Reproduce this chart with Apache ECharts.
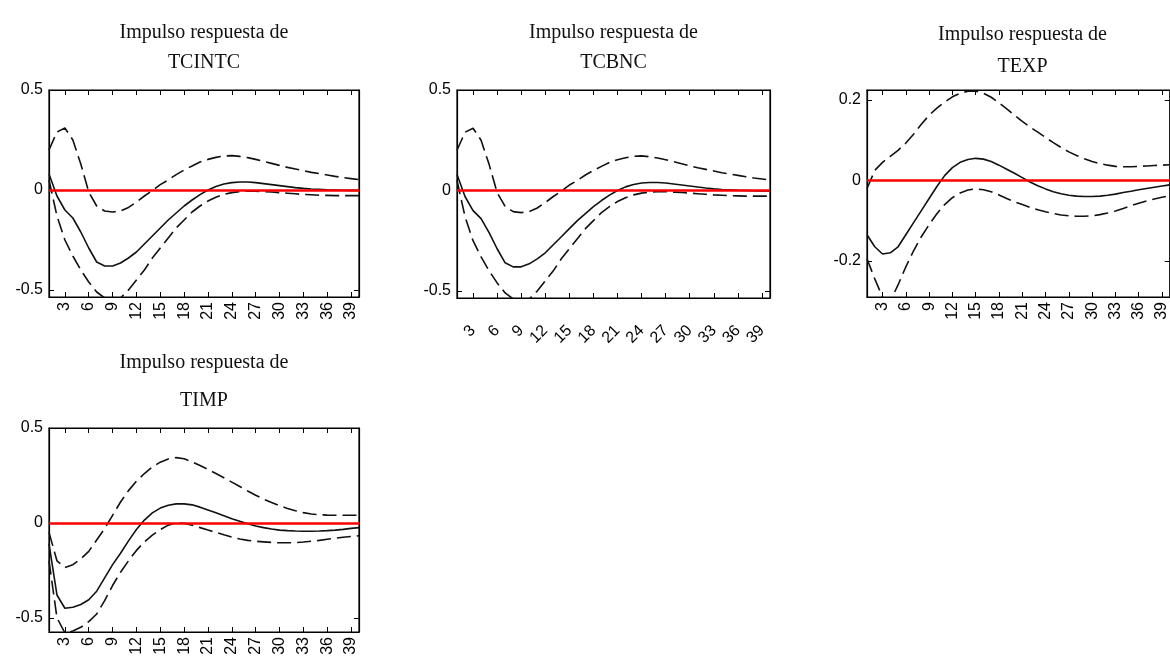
<!DOCTYPE html>
<html>
<head>
<meta charset="utf-8">
<script src="https://cdn.jsdelivr.net/npm/echarts@6/dist/echarts.min.js"></script>
<style>
html,body{margin:0;padding:0;background:#fff;}
#c{width:1170px;height:663px;}
</style>
</head>
<body>
<div id="c"></div>
<script>
const periods = [1,2,3,4,5,6,7,8,9,10,11,12,13,14,15,16,17,18,19,20,21,22,23,24,25,26,27,28,29,30,31,32,33,34,35,36,37,38,39,40];
const xTickLabels = [3,6,9,12,15,18,21,24,27,30,33,36,39];
const titlePrefix = 'Impulso respuesta de';
const panelNames = ['TCINTC','TCBNC','TEXP','TIMP'];

// TCINTC
const tcintcMid = [0.08,-0.03,-0.10,-0.14,-0.21,-0.29,-0.36,-0.38,-0.38,-0.365,-0.34,-0.31,-0.27,-0.23,-0.19,-0.15,-0.115,-0.08,-0.05,-0.023,0.0,0.018,0.03,0.037,0.04,0.04,0.037,0.032,0.027,0.022,0.017,0.012,0.008,0.005,0.003,0.001,0.0,-0.001,-0.002,-0.002];
const tcintcUp = [0.2,0.29,0.31,0.25,0.13,-0.01,-0.08,-0.105,-0.11,-0.105,-0.087,-0.06,-0.03,-0.003,0.027,0.05,0.077,0.10,0.12,0.14,0.153,0.163,0.17,0.172,0.168,0.162,0.153,0.143,0.133,0.123,0.113,0.105,0.097,0.088,0.082,0.075,0.068,0.062,0.057,0.052];
const tcintcLo = [0.05,-0.13,-0.25,-0.33,-0.40,-0.46,-0.51,-0.54,-0.55,-0.54,-0.50,-0.45,-0.40,-0.34,-0.29,-0.24,-0.19,-0.15,-0.11,-0.08,-0.055,-0.036,-0.022,-0.013,-0.008,-0.006,-0.006,-0.008,-0.01,-0.013,-0.016,-0.019,-0.022,-0.024,-0.026,-0.027,-0.028,-0.028,-0.028,-0.028];

// TCBNC
const tcbncMid = [0.08,-0.03,-0.10,-0.14,-0.21,-0.29,-0.36,-0.38,-0.38,-0.365,-0.34,-0.31,-0.27,-0.23,-0.19,-0.15,-0.115,-0.08,-0.05,-0.023,0.0,0.018,0.03,0.037,0.04,0.04,0.037,0.032,0.027,0.022,0.017,0.012,0.008,0.005,0.003,0.001,0.0,-0.001,-0.002,-0.002];
const tcbncUp = [0.2,0.29,0.31,0.25,0.13,-0.01,-0.08,-0.105,-0.11,-0.105,-0.087,-0.06,-0.03,-0.003,0.027,0.05,0.077,0.10,0.12,0.14,0.153,0.163,0.17,0.172,0.168,0.162,0.153,0.143,0.133,0.123,0.113,0.105,0.097,0.088,0.082,0.075,0.068,0.062,0.057,0.052];
const tcbncLo = [0.05,-0.13,-0.25,-0.33,-0.40,-0.46,-0.51,-0.54,-0.55,-0.54,-0.50,-0.45,-0.40,-0.34,-0.29,-0.24,-0.19,-0.15,-0.11,-0.08,-0.055,-0.036,-0.022,-0.013,-0.008,-0.006,-0.006,-0.008,-0.01,-0.013,-0.016,-0.019,-0.022,-0.024,-0.026,-0.027,-0.028,-0.028,-0.028,-0.028];

// TEXP
const texpMid = [-0.135,-0.165,-0.183,-0.18,-0.165,-0.135,-0.105,-0.075,-0.045,-0.015,0.012,0.032,0.045,0.052,0.055,0.053,0.047,0.038,0.028,0.018,0.007,-0.004,-0.013,-0.021,-0.028,-0.033,-0.037,-0.039,-0.04,-0.04,-0.039,-0.037,-0.034,-0.03,-0.027,-0.023,-0.02,-0.017,-0.014,-0.011];
const texpUp = [-0.02,0.025,0.045,0.06,0.075,0.093,0.115,0.14,0.162,0.18,0.195,0.208,0.217,0.222,0.222,0.217,0.207,0.193,0.178,0.162,0.147,0.133,0.12,0.107,0.094,0.082,0.071,0.062,0.054,0.047,0.042,0.038,0.035,0.034,0.034,0.035,0.036,0.037,0.038,0.039];
const texpLo = [-0.195,-0.245,-0.29,-0.30,-0.26,-0.215,-0.175,-0.14,-0.11,-0.083,-0.06,-0.043,-0.031,-0.024,-0.021,-0.023,-0.028,-0.036,-0.045,-0.053,-0.06,-0.067,-0.073,-0.078,-0.082,-0.086,-0.088,-0.089,-0.089,-0.088,-0.085,-0.081,-0.076,-0.07,-0.063,-0.057,-0.051,-0.046,-0.042,-0.038];

// TIMP
const timpMid = [-0.11,-0.38,-0.45,-0.445,-0.43,-0.405,-0.36,-0.29,-0.22,-0.16,-0.095,-0.035,0.015,0.053,0.078,0.093,0.1,0.1,0.095,0.083,0.068,0.053,0.038,0.022,0.008,-0.005,-0.016,-0.025,-0.032,-0.038,-0.041,-0.043,-0.044,-0.044,-0.043,-0.041,-0.038,-0.034,-0.029,-0.025];
const timpUp = [-0.05,-0.2,-0.235,-0.22,-0.19,-0.15,-0.09,-0.03,0.04,0.11,0.17,0.22,0.26,0.295,0.32,0.337,0.344,0.338,0.322,0.302,0.282,0.26,0.238,0.215,0.192,0.168,0.146,0.125,0.107,0.09,0.076,0.064,0.054,0.047,0.043,0.041,0.04,0.04,0.04,0.04];
const timpLo = [-0.2,-0.5,-0.58,-0.57,-0.55,-0.52,-0.48,-0.41,-0.33,-0.26,-0.2,-0.145,-0.1,-0.065,-0.035,-0.012,0.0,-0.002,-0.012,-0.025,-0.038,-0.05,-0.063,-0.075,-0.085,-0.092,-0.097,-0.1,-0.103,-0.105,-0.105,-0.104,-0.101,-0.097,-0.092,-0.086,-0.081,-0.076,-0.072,-0.068];

const yTicksA = [-0.5,0,0.5];
const yTicksB = [-0.2,0,0.2];

const panels = [
  {name: panelNames[0], mid: tcintcMid, up: tcintcUp, lo: tcintcLo, yMin: -0.535, yMax: 0.5, yTicks: yTicksA,
   grid: {left: 49, top: 90, width: 310, height: 207}, rot: 90, margin: 5, t1: 33, t2: 63},
  {name: panelNames[1], mid: tcbncMid, up: tcbncUp, lo: tcbncLo, yMin: -0.535, yMax: 0.5, yTicks: yTicksA,
   grid: {left: 457, top: 90, width: 313, height: 208}, rot: 45, margin: 30, t1: 33, t2: 63},
  {name: panelNames[2], mid: texpMid, up: texpUp, lo: texpLo, yMin: -0.29, yMax: 0.225, yTicks: yTicksB,
   grid: {left: 867, top: 90, width: 311, height: 207}, rot: 90, margin: 5, t1: 35, t2: 67},
  {name: panelNames[3], mid: timpMid, up: timpUp, lo: timpLo, yMin: -0.575, yMax: 0.5, yTicks: yTicksA,
   grid: {left: 49, top: 428, width: 310, height: 204}, rot: 90, margin: 5, t1: 363, t2: 401}
];

const labelFont = {color: '#000', fontFamily: 'Liberation Sans', fontSize: 16};
const grids = [], xAxes = [], yAxes = [], series = [], graphics = [];

panels.forEach((p, i) => {
  grids.push(Object.assign({show: true, borderColor: '#000', borderWidth: 1.2, backgroundColor: '#fff'}, p.grid));
  const tickCommon = {show: true, inside: true, length: 5, lineStyle: {color: '#000', width: 1}};
  const line = {show: true, onZero: false, lineStyle: {color: '#000', width: 1.2}};
  xAxes.push({
    type: 'value', gridIndex: i, min: 1, max: 40, position: 'bottom',
    axisLine: line,
    axisTick: Object.assign({customValues: xTickLabels}, tickCommon),
    axisLabel: Object.assign({customValues: xTickLabels, rotate: p.rot, margin: p.margin, showMinLabel: true, showMaxLabel: true}, labelFont),
    splitLine: {show: false}
  });
  xAxes.push({
    type: 'value', gridIndex: i, min: 1, max: 40, position: 'top',
    axisLine: line,
    axisTick: Object.assign({customValues: xTickLabels}, tickCommon),
    axisLabel: {show: false}, splitLine: {show: false}
  });
  yAxes.push({
    type: 'value', gridIndex: i, min: p.yMin, max: p.yMax, position: 'left',
    axisLine: line,
    axisTick: Object.assign({customValues: p.yTicks}, tickCommon),
    axisLabel: Object.assign({customValues: p.yTicks, margin: 6, formatter: v => String(v)}, labelFont),
    splitLine: {show: false}
  });
  yAxes.push({
    type: 'value', gridIndex: i, min: p.yMin, max: p.yMax, position: 'right',
    axisLine: line,
    axisTick: Object.assign({customValues: p.yTicks}, tickCommon),
    axisLabel: {show: false}, splitLine: {show: false}
  });
  const xi = i * 2, yi = i * 2;
  const mk = arr => periods.map((t, k) => [t, arr[k]]);
  series.push({
    type: 'line', xAxisIndex: xi, yAxisIndex: yi, data: mk(p.up), symbol: 'none', clip: true,
    lineStyle: {color: '#111', width: 1.6, type: [14, 6]}, z: 3, silent: true
  });
  series.push({
    type: 'line', xAxisIndex: xi, yAxisIndex: yi, data: mk(p.lo), symbol: 'none', clip: true,
    lineStyle: {color: '#111', width: 1.6, type: [14, 6]}, z: 3, silent: true
  });
  series.push({
    type: 'line', xAxisIndex: xi, yAxisIndex: yi, data: mk(p.mid), symbol: 'none', clip: true,
    lineStyle: {color: '#111', width: 1.6, type: 'solid'}, z: 3, silent: true,
    markLine: {
      silent: true, symbol: 'none', label: {show: false},
      lineStyle: {color: '#ff0000', width: 2.5, type: 'solid'},
      data: [{yAxis: 0}]
    }
  });
  const cx = p.grid.left + p.grid.width / 2;
  [[titlePrefix, p.t1], [p.name, p.t2]].forEach(([txt, y]) => {
    graphics.push({
      type: 'text', x: cx, y: y, z: 10,
      style: {text: txt, font: '20px "Liberation Serif"', fill: '#111',
              align: 'center', verticalAlign: 'middle', textAlign: 'center', textVerticalAlign: 'middle'}
    });
  });
});

const chart = echarts.init(document.getElementById('c'), null, {renderer: 'canvas'});
chart.setOption({
  backgroundColor: '#fff',
  animation: false,
  grid: grids,
  xAxis: xAxes,
  yAxis: yAxes,
  series: series,
  graphic: graphics
});
</script>
</body>
</html>
